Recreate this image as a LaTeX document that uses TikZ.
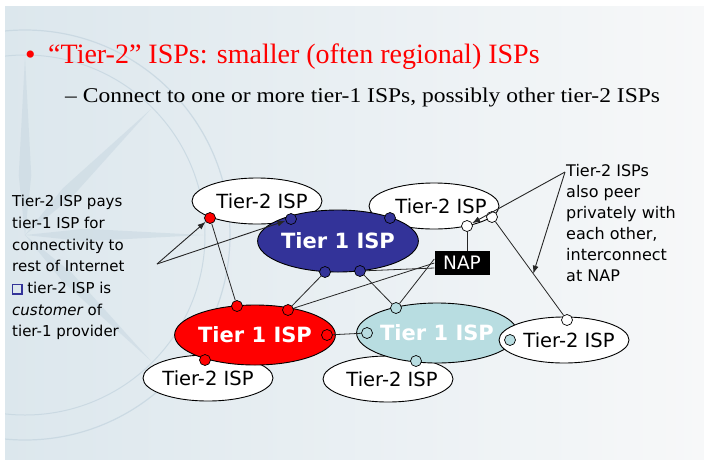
\documentclass[tikz,border=0pt]{standalone}
\usepackage{fontspec}
\setmainfont{Liberation Serif}
\newfontfamily\subfont[FakeStretch=1.12]{Liberation Serif}
\newfontfamily\hand{DejaVu Sans}
\usetikzlibrary{shapes.geometric,arrows.meta,calc}

\definecolor{tieroneblue}{RGB}{51,51,153}
\definecolor{tieronered}{RGB}{255,0,0}
\definecolor{tieronecyan}{RGB}{184,221,225}
\definecolor{titlered}{RGB}{255,0,0}
\definecolor{bgleft}{RGB}{220,231,237}
\definecolor{bgright}{RGB}{247,248,249}
\definecolor{markline}{RGB}{198,214,224}

\newcommand\sqbullet{\textcolor{tieroneblue}{\setlength\fboxsep{0pt}\setlength\fboxrule{1.2pt}\fbox{\rule{0pt}{8pt}\rule{8pt}{0pt}}}}
% moves a label sideways inside its ellipse without widening the box
\newcommand\nudge[2]{\hspace*{#1}#2\hspace*{-#1}}

\begin{document}
\begin{tikzpicture}[x=1pt,y=-1pt,
  isp/.style={ellipse,draw=black,line width=0.9pt,inner sep=0pt},
  tiertwo/.style={isp,fill=white,minimum width=130pt,minimum height=46pt,
    font=\hand\fontsize{19.5}{22}\selectfont},
  tierone/.style={isp,minimum width=148pt,minimum height=62pt,text=white,
    font=\hand\bfseries\fontsize{21}{24}\selectfont},
  port/.style={circle,draw=black,line width=0.7pt,inner sep=0pt,minimum size=11pt},
  link/.style={draw=black!85,line width=0.8pt},
  callout/.style={draw=black!85,line width=0.9pt,-{Latex[length=8pt,width=6pt]}},
  note/.style={align=left,inner sep=0pt},
]
% slide background
\fill[white] (0,0) rectangle (704,459);
\shade[left color=bgleft,right color=bgright] (5,6) rectangle (704,459);
\useasboundingbox (0,0) rectangle (704,459);

% faint compass watermark
\begin{scope}
  \clip (5,6) rectangle (704,459);
  \draw[markline,line width=1.2pt,opacity=0.8] (25,235) circle[radius=205];
  \draw[markline,line width=1pt,opacity=0.8] (25,235) circle[radius=180];
  \foreach \a in {-90,-45,0,45} {
    \fill[markline,opacity=0.5] (25,235) -- ($(25,235)+(\a+6:60)$) -- ($(25,235)+(\a:178)$) -- ($(25,235)+(\a-6:60)$) -- cycle;
  }
\end{scope}

% heading
\node[anchor=base west,inner sep=0pt,text=titlered,font=\fontsize{30}{32}\selectfont] (bul) at (25,64) {\textbullet};
\node[anchor=base west,inner sep=0pt,text=titlered,font=\fontsize{28}{32}\selectfont] (title) at (48,63) {“Tier-2” ISPs: smaller (often regional) ISPs};
\node[anchor=base west,inner sep=0pt,font=\subfont\fontsize{21}{25}\selectfont] (sub) at (65,102) {– Connect to one or more tier-1 ISPs, possibly other tier-2 ISPs};

% tier-2 providers that sit behind the backbone networks
\node[tiertwo] (tl) at (257,201) {\nudge{5pt}{Tier-2 ISP}};
\node[tiertwo] (tr) at (434,206) {\nudge{7pt}{Tier-2 ISP}};
\node[tiertwo] (bl) at (208,378) {Tier-2 ISP};
\node[tiertwo] (bm) at (388,379) {\nudge{4pt}{Tier-2 ISP}};

% tier-1 backbones
\node[tierone,fill=tieroneblue,minimum width=146pt] (blue) at (338,241) {Tier 1 ISP};
\node[tierone,fill=tieronered,minimum width=150pt,minimum height=60pt] (red) at (255,335) {Tier 1 ISP};
\node[tierone,fill=tieronecyan,minimum width=145pt,minimum height=60pt] (cyan) at (437,333) {Tier 1 ISP};
\node[tiertwo] (rt) at (564,340) {\nudge{5pt}{Tier-2 ISP}};

% network access point
\node[fill=black,text=white,inner sep=0pt,minimum width=55pt,minimum height=24pt,
  font=\hand\fontsize{18.5}{20}\selectfont] (nap) at (462,263) {NAP};

% attachment points
\node[port,fill=tieronered] (tlR) at (210,218) {};
\node[port,fill=tieroneblue] (tlB) at (291,219) {};
\node[port,fill=tieroneblue] (trB) at (390,218) {};
\node[port,fill=tieroneblue] (bB1) at (325,272) {};
\node[port,fill=tieroneblue] (bB2) at (360,271) {};
\node[port,fill=white] (trN) at (467,226) {};
\node[port,fill=white] (trP) at (492,217) {};
\node[port,fill=tieronered] (rT1) at (237,306) {};
\node[port,fill=tieronered] (rT2) at (288,310) {};
\node[port,fill=tieronered] (rR) at (327,335) {};
\node[port,fill=tieronered] (blR) at (205,360) {};
\node[port,fill=tieronecyan] (cT) at (396,308) {};
\node[port,fill=tieronecyan] (cL) at (367,333) {};
\node[port,fill=tieronecyan] (bmC) at (416,361) {};
\node[port,fill=tieronecyan] (rtC) at (510,340) {};
\node[port,fill=white] (rtP) at (567,320) {};

% links between networks
\draw[link] (tlR) -- (rT1);
\draw[link] (rT2) -- (bB1);
\draw[link] (rT2) -- (nap.west);
\draw[link] (bB2) -- ([yshift=-5pt]nap.west);
\draw[link] (bB2) -- (cT);
\draw[link] (cT) -- ([yshift=4pt]nap.west);
\draw[link] (trN) -- (trN |- nap.north);
\draw[link] (rR) -- (cL);
\draw[link] (trP) -- (rtP);

% annotations
\node[note,anchor=north west,font=\hand\fontsize{15}{21.7}\selectfont] (paynote) at (12,195) {Tier-2 ISP pays\\tier-1 ISP for\\connectivity to\\rest of Internet\\\sqbullet\ tier-2 ISP is\\{\itshape customer} of\\tier-1 provider};
\node[note,anchor=north west,font=\hand\fontsize{16}{21}\selectfont] (peernote) at (566,164) {Tier-2 ISPs\\also peer\\privately with\\each other,\\interconnect\\at NAP};

\coordinate (payfrom) at (157,264);
\coordinate (peerfrom) at (565,172);
\draw[callout] (payfrom) -- (tlR);
\draw[callout] (payfrom) -- (tlB);
\draw[callout] (peerfrom) -- (trN);
\draw[callout] (peerfrom) -- ($(trP)!0.55!(rtP)$);
\end{tikzpicture}
\end{document}
